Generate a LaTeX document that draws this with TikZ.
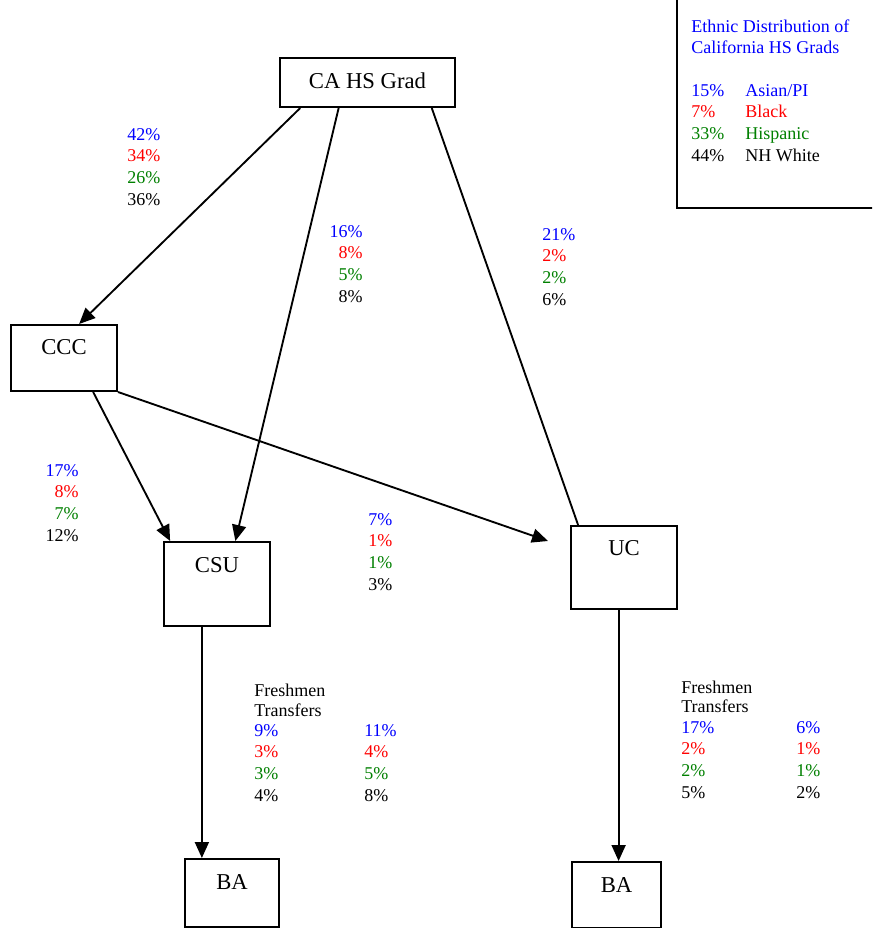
\documentclass[tikz,border=0pt]{standalone}
\usepackage{fontspec}
\setmainfont{Liberation Serif}
\usetikzlibrary{arrows.meta}
\usetikzlibrary{calc}
\definecolor{mblue}{rgb}{0, 0, 1}
\definecolor{mred}{rgb}{1, 0, 0}
\definecolor{mgreen}{rgb}{0, 0.5, 0}

\tikzset{
  box/.style={draw, line width=1.5pt, inner sep=0pt, anchor=north west,
    font=\fontsize{17}{20}\selectfont},
  pct/.style={inner sep=0pt, anchor=base west, font=\fontsize{13.5}{16}\selectfont},
  link/.style={line width=1.4pt},
  flow/.style={link, -{Triangle[length=12pt, width=10.5pt]}},
}

\begin{document}
\begin{tikzpicture}[x=0.75pt, y=-0.75pt]
    \useasboundingbox (0, 0) rectangle (872, 928);
    \clip (0, 0) rectangle (872, 928);

    % boxes
    \node [box, minimum width=131.25pt, text height=22.5pt, text depth=14.25pt] (grad) at (279, 57) {CA HS Grad};
    \node [box, minimum width=79.5pt, text height=21.75pt, text depth=27.75pt] (ccc) at (10, 324) {CCC};
    \node [box, minimum width=79.5pt, text height=22.5pt, text depth=40.5pt] (csu) at (163, 541) {CSU};
    \node [box, minimum width=79.5pt, text height=21.75pt, text depth=40.5pt] (uc) at (570, 525) {UC};
    \node [box, minimum width=70.5pt, text height=22.5pt, text depth=28.5pt] (baA) at (184, 858) {BA};
    \node [box, minimum width=66.75pt, text height=22.5pt, text depth=27pt] (baB) at (571, 861) {BA};

    % flows
    \draw [flow] ($(grad.south west)!0.12!(grad.south east)$) -- ($(ccc.north west)!0.64!(ccc.north east)$);
    \draw [flow] ($(grad.south west)!0.337!(grad.south east)$) -- ($(csu.north west)!0.67!(csu.north east)$);
    \draw [link] ($(grad.south west)!0.863!(grad.south east)$) -- ($(uc.north west)!0.075!(uc.north east)$);
    \draw [flow] ($(ccc.south west)!0.77!(ccc.south east)$) -- ($(csu.north west)!0.066!(csu.north east)$);
    \coordinate (ucin) at ($(uc.north west) + (-22, 16)$);
    \draw [flow] (ccc.south east) -- (ucin);
    \coordinate (csuout) at ($(csu.south west)!0.36!(csu.south east)$);
    \draw [flow] (csuout) -- (csuout |- baA.north);
    \coordinate (ucout) at ($(uc.south west)!0.45!(uc.south east)$);
    \draw [flow] (ucout) -- (ucout |- baB.north);

    % shares on each flow
    \foreach \v/\c [count=\i from 0] in {42/mblue, 34/mred, 26/mgreen, 36/black}
      \node [pct, text=\c] (toccc\i) at (127, 140 + 21.7*\i) {\v\%};
    \foreach \v/\c [count=\i from 0] in {16/mblue, 8/mred, 5/mgreen, 8/black}
      \node [pct, text=\c, anchor=base east] (tocsu\i) at (363, 237 + 21.7*\i) {\v\%};
    \foreach \v/\c [count=\i from 0] in {21/mblue, 2/mred, 2/mgreen, 6/black}
      \node [pct, text=\c] (touc\i) at (542, 240 + 21.7*\i) {\v\%};
    \foreach \v/\c [count=\i from 0] in {17/mblue, 8/mred, 7/mgreen, 12/black}
      \node [pct, text=\c, anchor=base east] (ccccsu\i) at (79, 476 + 21.7*\i) {\v\%};
    \foreach \v/\c [count=\i from 0] in {7/mblue, 1/mred, 1/mgreen, 3/black}
      \node [pct, text=\c] (cccuc\i) at (368, 525 + 21.7*\i) {\v\%};

    % degrees
    \node [pct] (csufresh) at (254, 696) {Freshmen};
    \node [pct] (csutrans) at (254, 716) {Transfers};
    \foreach \a/\b/\c [count=\i from 0] in {9/11/mblue, 3/4/mred, 3/5/mgreen, 4/8/black} {
      \node [pct, text=\c] (csuf\i) at (254, 736 + 21.7*\i) {\a\%};
      \node [pct, text=\c] (csut\i) at (364, 736 + 21.7*\i) {\b\%};
    }
    \node [pct] (ucfresh) at (681, 693) {Freshmen};
    \node [pct] (uctrans) at (681, 712) {Transfers};
    \foreach \a/\b/\c [count=\i from 0] in {17/6/mblue, 2/1/mred, 2/1/mgreen, 5/2/black} {
      \node [pct, text=\c] (ucf\i) at (681, 733 + 21.7*\i) {\a\%};
      \node [pct, text=\c] (uct\i) at (796, 733 + 21.7*\i) {\b\%};
    }

    % legend
    \node [draw, line width=1.5pt, anchor=north west, minimum width=150pt, minimum height=160pt] (legend) at (676, -6) {};
    \node [pct, text=mblue] (title1) at (691, 32) {Ethnic Distribution of};
    \node [pct, text=mblue] (title2) at (691, 53) {California HS Grads};
    \node [pct, text=mblue] (asianv) at (691, 96) {15\%};
    \node [pct, text=mblue] (asian) at (745, 96) {Asian/PI};
    \node [pct, text=mred] (blackv) at (691, 117.7) {7\%};
    \node [pct, text=mred] (black) at (745, 117.7) {Black};
    \node [pct, text=mgreen] (hispv) at (691, 139.4) {33\%};
    \node [pct, text=mgreen] (hisp) at (745, 139.4) {Hispanic};
    \node [pct] (whitev) at (691, 161.1) {44\%};
    \node [pct] (white) at (745, 161.1) {NH White};
\end{tikzpicture}
\end{document}
